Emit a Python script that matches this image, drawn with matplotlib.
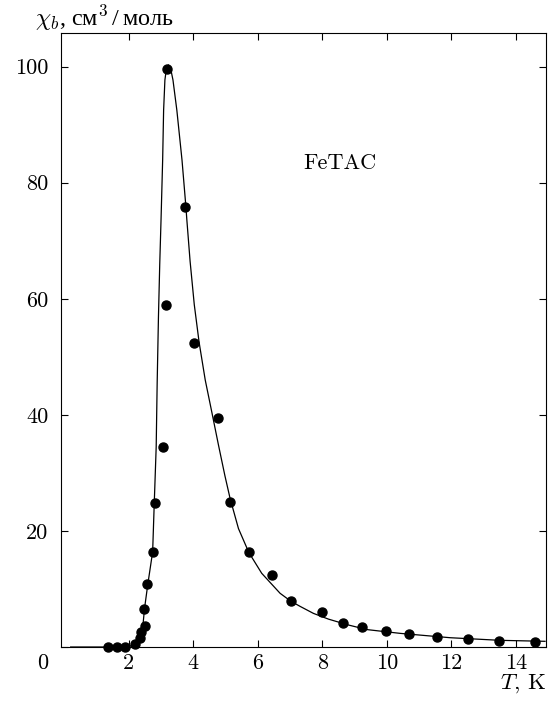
import numpy as np
import matplotlib
matplotlib.use('Agg')
import matplotlib.pyplot as plt

plt.rcParams['font.family'] = ['cmr10', 'Liberation Serif', 'DejaVu Serif']
plt.rcParams['mathtext.fontset'] = 'cm'
plt.rcParams['axes.formatter.use_mathtext'] = True

# measured points (T, chi_b)
T_pts = [1.37, 1.63, 1.89, 2.20, 2.34, 2.39, 2.49, 2.48, 2.58, 2.75, 2.80,
         3.05, 3.16, 3.18, 3.75, 4.01, 4.78, 5.14, 5.73, 6.44, 7.02,
         8.00, 8.64, 9.22, 9.96, 10.68, 11.55, 12.51, 13.47, 14.59]
chi_pts = [0.0, 0.0, 0.05, 0.6, 1.5, 2.5, 3.7, 6.5, 10.8, 16.3, 24.8,
           34.5, 59.0, 99.6, 75.8, 52.3, 39.5, 24.9, 16.3, 12.4, 8.0,
           6.0, 4.2, 3.45, 2.7, 2.25, 1.72, 1.33, 1.03, 0.86]

# fitted curve
T_fit = [0.2, 1.0, 1.6, 1.94, 2.1, 2.2, 2.36, 2.44, 2.49, 2.59, 2.74, 2.79,
         2.85, 2.88, 2.92, 2.96, 3.0, 3.05, 3.08, 3.12, 3.17, 3.23, 3.30,
         3.37, 3.49, 3.65, 3.77, 3.80, 3.90, 4.03, 4.18, 4.37, 4.58, 4.78,
         4.98, 5.14, 5.40, 5.72, 6.12, 6.69, 7.02, 7.31, 7.72, 8.19, 8.8,
         9.38, 10.41, 11.96, 13.5, 14.9]
chi_fit = [0.0, 0.0, 0.0, 0.05, 0.25, 0.6, 1.8, 3.8, 6.7, 10.8, 16.4, 24.8,
           34.5, 45.4, 56.9, 66.0, 73.6, 83.9, 92.5, 97.7, 99.8, 100.3, 99.6,
           97.7, 92.5, 83.9, 75.9, 73.6, 66.5, 59.0, 52.5, 46.0, 40.3, 34.8,
           29.5, 25.6, 20.4, 16.3, 12.7, 9.25, 7.9, 7.0, 5.8, 4.8, 3.8,
           3.0, 2.35, 1.6, 1.15, 0.98]

xticks = [2, 4, 6, 8, 10, 12, 14]
yticks = [0, 20, 40, 60, 80, 100]

fig = plt.figure(figsize=(5.51, 7.02), dpi=100)
ax = fig.add_axes([61 / 551, 55 / 702, 485 / 551, 614 / 702])

ax.plot(T_fit, chi_fit, color='black', lw=0.9)
ax.plot(T_pts, chi_pts, 'o', color='black', ms=6.5, clip_on=False)

ax.set_xlim(-0.1, 14.93)
ax.set_ylim(0, 105.8)
ax.set_xticks(xticks)
ax.set_xticklabels([str(v) for v in xticks])
ax.set_yticks(yticks)
ax.set_yticklabels([''] + [str(v) for v in yticks[1:]])
ax.tick_params(direction='in', top=True, right=True, length=5, width=0.8,
               labelsize=16)
ax.tick_params(axis='x', pad=5)
ax.tick_params(axis='y', pad=9)
for s in ax.spines.values():
    s.set_linewidth(0.8)

ax.text(-0.0377, -0.027, '0', transform=ax.transAxes, ha='center', va='center',
        fontsize=16)
ax.text(1.0, -0.06, r'$T$, K', transform=ax.transAxes, ha='right', va='center',
        fontsize=16.5)
ax.text(-0.054, 1.012, r'$\chi_b$, см$^3\,$/$\,$моль', transform=ax.transAxes,
        ha='left', va='baseline', fontsize=17.5, family='Liberation Serif')
ax.text(8.55, 83.3, 'FeTAC', ha='center', va='center', fontsize=16)

fig.savefig('out.png', dpi=100)
